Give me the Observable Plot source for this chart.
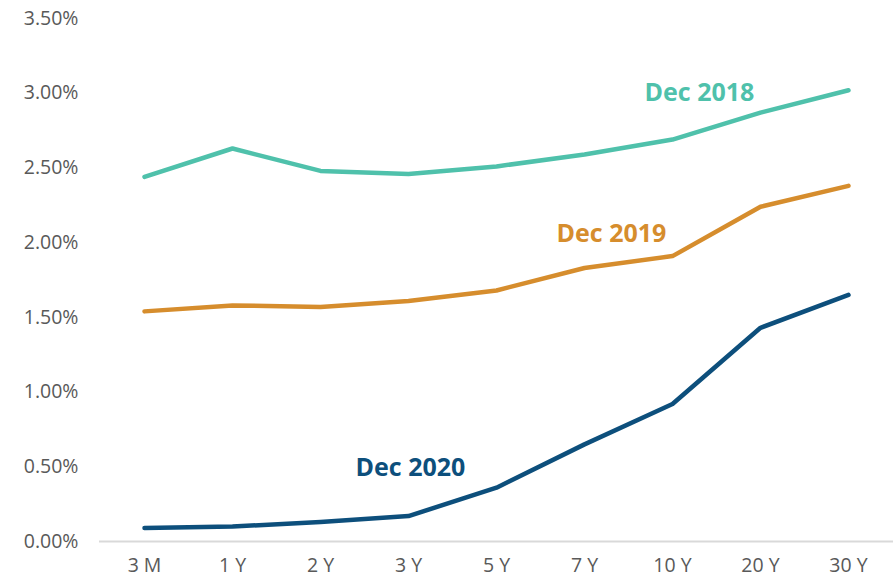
<!DOCTYPE html>
<html>
<head>
<meta charset="utf-8">
<script src="https://cdn.jsdelivr.net/npm/d3@7"></script>
<script src="https://cdn.jsdelivr.net/npm/@observablehq/plot@0.6"></script>
<style>
  html, body { margin: 0; padding: 0; background: #fff; }
  #chart svg { display: block; }
</style>
</head>
<body>
<div id="chart"></div>
<script>
const maturities = ["3 M", "1 Y", "2 Y", "3 Y", "5 Y", "7 Y", "10 Y", "20 Y", "30 Y"];
const dec2018 = [2.44, 2.63, 2.48, 2.46, 2.51, 2.59, 2.69, 2.87, 3.02];
const dec2019 = [1.54, 1.58, 1.57, 1.61, 1.68, 1.83, 1.91, 2.24, 2.38];
const dec2020 = [0.09, 0.10, 0.13, 0.17, 0.36, 0.65, 0.92, 1.43, 1.65];
const seriesNames = ["Dec 2018", "Dec 2019", "Dec 2020"];
const seriesColors = ["#4fc1ab", "#d68d2d", "#0d4f7c"];
const yTicks = [0, 0.5, 1, 1.5, 2, 2.5, 3, 3.5];

const values = [dec2018, dec2019, dec2020];
const rows = [];
seriesNames.forEach((s, i) => maturities.forEach((m, j) => rows.push({series: s, maturity: m, rate: values[i][j]})));

// label anchors: category + value near which each series name is written
const labels = [
  {series: "Dec 2018", maturity: "10 Y", rate: 3.0, dx: 27},
  {series: "Dec 2019", maturity: "7 Y", rate: 2.06, dx: 27},
  {series: "Dec 2020", maturity: "3 Y", rate: 0.495, dx: 2}
];

const chart = Plot.plot({
  width: 896,
  height: 577,
  marginTop: 18,
  marginBottom: 36,
  marginLeft: 99,
  marginRight: 3,
  style: {fontFamily: "'Open Sans', Lato, sans-serif", background: "#fff"},
  x: {type: "point", domain: maturities, padding: 0.5, label: null},
  y: {domain: [0, 3.5], label: null},
  color: {domain: seriesNames, range: seriesColors},
  marks: [
    Plot.ruleY([0], {stroke: "#d9d9d9", strokeWidth: 2}),
    Plot.axisY({ticks: yTicks, tickSize: 0, tickPadding: 21, tickFormat: d => d.toFixed(2) + "%", fontSize: 19.5, fill: "#595959", label: null}),
    Plot.axisX({tickSize: 0, tickPadding: 17, fontSize: 19.5, fill: "#595959", label: null}),
    Plot.line(rows, {x: "maturity", y: "rate", z: "series", stroke: "series", strokeWidth: 4.5, strokeLinecap: "round", strokeLinejoin: "round"}),
    ...labels.map(l => Plot.text([l], {x: "maturity", y: "rate", text: "series", fill: "series", dx: l.dx, fontSize: 25, fontWeight: "bold"}))
  ]
});
document.getElementById("chart").appendChild(chart);
</script>
</body>
</html>
